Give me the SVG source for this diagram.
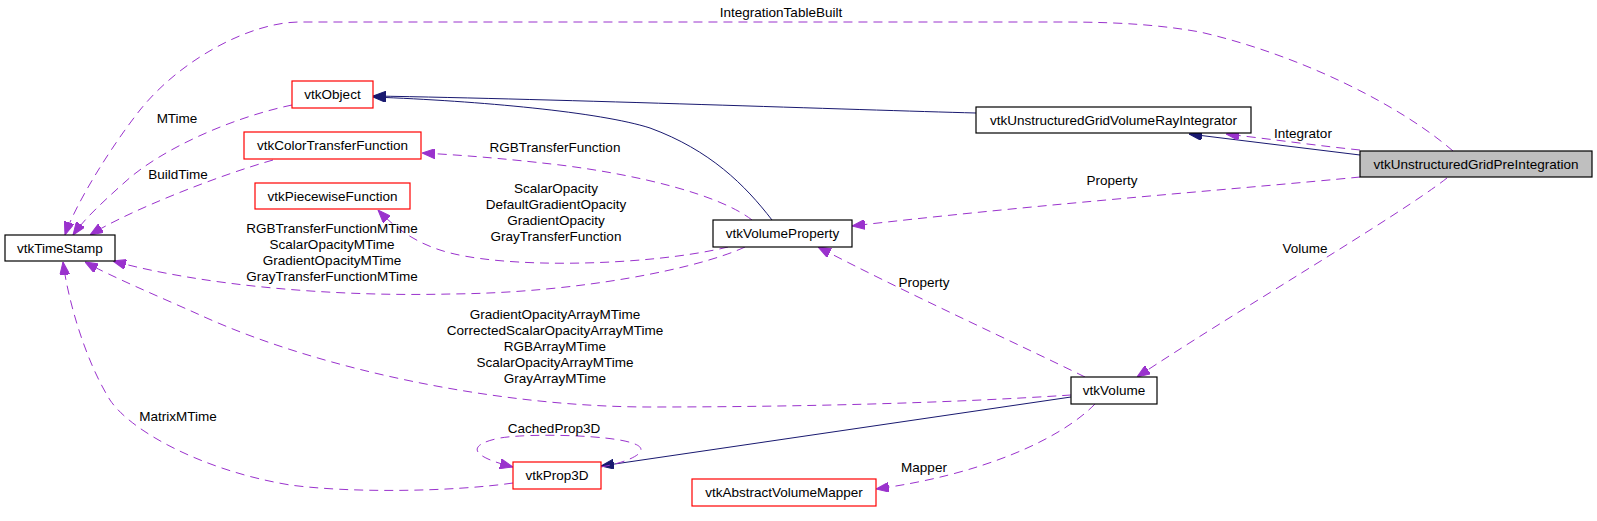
<svg xmlns="http://www.w3.org/2000/svg" width="1597" height="521" viewBox="0 0 1597 521">
<defs>
<style>
text{font-family:"Liberation Sans",Arial,Helvetica,sans-serif;font-size:13.5px;fill:#000;text-anchor:middle}
.n rect{fill:#fff;stroke:#000;stroke-width:1.2}
.r rect{stroke:#ff0000}
.g rect{fill:#bfbfbf}
.u{fill:none;stroke:#9a32cd;stroke-width:1;stroke-dasharray:9,6}
.i{fill:none;stroke:#191970;stroke-width:1}
</style>
<marker id="aP" viewBox="0 0 13 10" refX="13" refY="5" markerWidth="13" markerHeight="10" markerUnits="userSpaceOnUse" orient="auto"><path d="M0,0 L13,5 L0,10 z" fill="#9a32cd" stroke="#9a32cd" stroke-width="1"/></marker>
<marker id="aN" viewBox="0 0 13 10" refX="13" refY="5" markerWidth="13" markerHeight="10" markerUnits="userSpaceOnUse" orient="auto"><path d="M0,0 L13,5 L0,10 z" fill="#191970" stroke="#191970" stroke-width="1"/></marker>
</defs>
<rect width="1597" height="521" fill="#fff"/>
<g id="connectors">
<path class="i" marker-end="url(#aN)" d="M976,113 C860,110 560,99 373,96"/>
<path class="i" marker-end="url(#aN)" d="M772,220 C745,185 710,150 650,128 C600,112 480,101 373,97"/>
<path class="i" marker-end="url(#aN)" d="M1360,155 L1189,134"/>
<path class="i" marker-end="url(#aN)" d="M1071,397 L601,466"/>
<path class="u" marker-end="url(#aP)" d="M1360,150 C1320,146 1270,139 1226,134"/>
<text x="1303" y="138">Integrator</text>
<path class="u" marker-end="url(#aP)" d="M1453,151 C1400,105 1300,55 1200,32 C1150,23 1100,22 1060,22 L300,22 C250,22 180,60 140,110 C110,148 75,205 65,235"/>
<text x="781" y="17">IntegrationTableBuilt</text>
<path class="u" marker-end="url(#aP)" d="M292,105 C230,118 160,150 125,182 C105,200 85,218 73,235"/>
<text x="177" y="123">MTime</text>
<path class="u" marker-end="url(#aP)" d="M273,160 C220,175 130,210 90,235"/>
<text x="178" y="179">BuildTime</text>
<path class="u" marker-end="url(#aP)" d="M752,220 C720,195 640,175 560,165 C500,158 460,155 422,153"/>
<text x="555" y="152">RGBTransferFunction</text>
<path class="u" marker-end="url(#aP)" d="M728,247 C650,266 500,270 440,250 C415,242 395,228 378,210"/>
<text x="556" y="193">ScalarOpacity</text>
<text x="556" y="209">DefaultGradientOpacity</text>
<text x="556" y="225">GradientOpacity</text>
<text x="556" y="241">GrayTransferFunction</text>
<path class="u" marker-end="url(#aP)" d="M745,247 C700,268 580,293 450,294 C330,297 200,285 113,261"/>
<text x="332" y="233">RGBTransferFunctionMTime</text>
<text x="332" y="249">ScalarOpacityMTime</text>
<text x="332" y="265">GradientOpacityMTime</text>
<text x="332" y="281">GrayTransferFunctionMTime</text>
<path class="u" marker-end="url(#aP)" d="M1071,395 C950,403 800,407 650,407 C500,407 320,370 200,315 C160,297 110,276 85,262"/>
<text x="555" y="319">GradientOpacityArrayMTime</text>
<text x="555" y="335">CorrectedScalarOpacityArrayMTime</text>
<text x="555" y="351">RGBArrayMTime</text>
<text x="555" y="367">ScalarOpacityArrayMTime</text>
<text x="555" y="383">GrayArrayMTime</text>
<path class="u" marker-end="url(#aP)" d="M513,483 C450,492 350,493 290,485 C200,470 130,430 110,400 C85,360 68,300 63,262"/>
<text x="178" y="421">MatrixMTime</text>
<path class="u" marker-end="url(#aP)" d="M601,467 C630,462 655,450 632,443 C610,435 530,433 500,438 C470,444 465,455 513,467"/>
<text x="554" y="433">CachedProp3D</text>
<path class="u" marker-end="url(#aP)" d="M1095,404 C1060,440 980,475 876,489"/>
<text x="924" y="472">Mapper</text>
<path class="u" marker-end="url(#aP)" d="M1085,377 C1020,345 900,290 818,247"/>
<text x="924" y="287">Property</text>
<path class="u" marker-end="url(#aP)" d="M1360,177 C1250,188 1050,203 852,226"/>
<text x="1112" y="185">Property</text>
<path class="u" marker-end="url(#aP)" d="M1447,178 C1400,215 1230,315 1137,377"/>
<text x="1305" y="253">Volume</text>
</g>
<g id="vtkTimeStamp" class="n"><rect x="5" y="235" width="110" height="26"/><text x="60" y="252.5">vtkTimeStamp</text></g>
<g id="vtkObject" class="n r"><rect x="292" y="81" width="81" height="27"/><text x="332.5" y="99">vtkObject</text></g>
<g id="vtkColorTransferFunction" class="n r"><rect x="244" y="132" width="177" height="27"/><text x="332.5" y="150">vtkColorTransferFunction</text></g>
<g id="vtkPiecewiseFunction" class="n r"><rect x="255" y="183" width="155" height="26"/><text x="332.5" y="200.5">vtkPiecewiseFunction</text></g>
<g id="vtkVolumeProperty" class="n"><rect x="713" y="220" width="139" height="27"/><text x="782.5" y="238">vtkVolumeProperty</text></g>
<g id="vtkUnstructuredGridVolumeRayIntegrator" class="n"><rect x="976" y="107" width="275" height="26"/><text x="1113.5" y="124.5">vtkUnstructuredGridVolumeRayIntegrator</text></g>
<g id="vtkUnstructuredGridPreIntegration" class="n g"><rect x="1360" y="151" width="232" height="26"/><text x="1476" y="168.5">vtkUnstructuredGridPreIntegration</text></g>
<g id="vtkVolume" class="n"><rect x="1071" y="377" width="86" height="27"/><text x="1114" y="395">vtkVolume</text></g>
<g id="vtkProp3D" class="n r"><rect x="513" y="462" width="88" height="27"/><text x="557" y="480">vtkProp3D</text></g>
<g id="vtkAbstractVolumeMapper" class="n r"><rect x="692" y="479" width="184" height="27"/><text x="784" y="497">vtkAbstractVolumeMapper</text></g>
</svg>
